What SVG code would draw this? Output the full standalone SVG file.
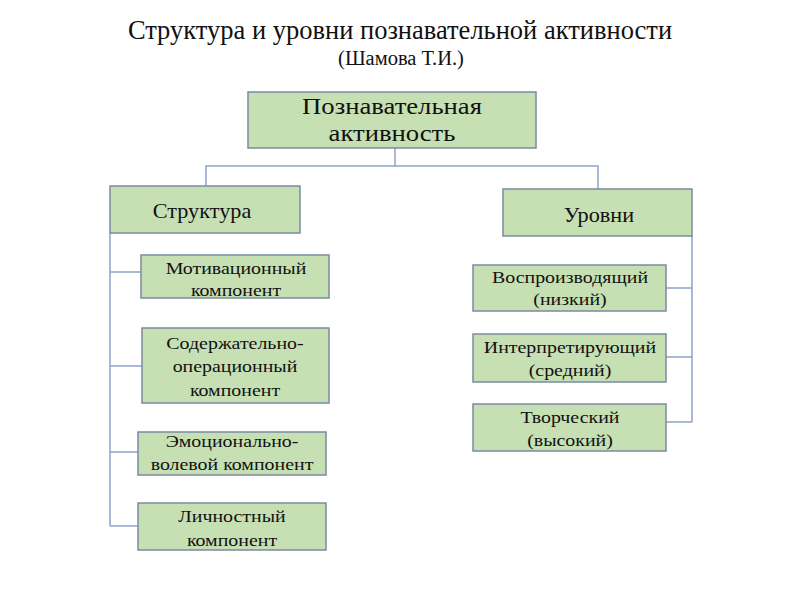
<svg xmlns="http://www.w3.org/2000/svg" width="800" height="600" viewBox="0 0 800 600">
<style>
.box{fill:#c6e0b4;stroke:#7b8aa0;stroke-width:1.5}
.t{font-family:"Liberation Serif",serif;fill:#111;text-anchor:middle}
.s{font-size:17px}
.c{fill:none;stroke:#8ea3cc;stroke-width:1.5}
</style>
<rect width="800" height="600" fill="#fff"/>
<text class="t" x="400" y="39" font-size="26.5">Структура и уровни познавательной активности</text>
<text class="t" x="401" y="65" font-size="20.5">(Шамова Т.И.)</text>
<g id="connectors">
<path class="c" d="M395 148V166M206 186V166H598V189"/>
<path class="c" d="M110 233V526M110 272H141M110 366H142M110 452H138M110 526H138"/>
<path class="c" d="M692 236V422M666 288H692M666 357H692M666 422H692"/>
</g>
<g id="n-root"><rect class="box" x="248" y="92" width="288" height="56"/>
<g transform="translate(392 0) scale(1.16 1)"><text class="t" font-size="23" x="0" y="114">Познавательная</text><text class="t" font-size="23" x="0" y="141">активность</text></g></g>
<g id="n-struct"><rect class="box" x="110" y="186" width="190" height="47"/>
<g transform="translate(202 0) scale(1.06 1)"><text class="t" font-size="21" x="0" y="218">Структура</text></g></g>
<g id="n-levels"><rect class="box" x="503" y="189" width="189" height="47"/>
<g transform="translate(599 0) scale(1.06 1)"><text class="t" font-size="21" x="0" y="222">Уровни</text></g></g>
<g id="n-motiv"><rect class="box" x="141" y="255" width="188" height="43"/>
<g transform="translate(236 0) scale(1.17 1)"><text class="t s" x="0" y="274">Мотивационный</text><text class="t s" x="0" y="296">компонент</text></g></g>
<g id="n-content"><rect class="box" x="142" y="328" width="187" height="75"/>
<g transform="translate(235 0) scale(1.17 1)"><text class="t s" x="0" y="349">Содержательно-</text><text class="t s" x="0" y="372">операционный</text><text class="t s" x="0" y="396">компонент</text></g></g>
<g id="n-emo"><rect class="box" x="138" y="432" width="188" height="43"/>
<g transform="translate(232 0) scale(1.17 1)"><text class="t s" x="0" y="447">Эмоционально-</text><text class="t s" x="0" y="470">волевой компонент</text></g></g>
<g id="n-pers"><rect class="box" x="138" y="503" width="188" height="47"/>
<g transform="translate(232 0) scale(1.17 1)"><text class="t s" x="0" y="522">Личностный</text><text class="t s" x="0" y="546">компонент</text></g></g>
<g id="n-repro"><rect class="box" x="473" y="265" width="193" height="46"/>
<g transform="translate(570 0) scale(1.17 1)"><text class="t s" x="0" y="283">Воспроизводящий</text><text class="t s" x="0" y="305">(низкий)</text></g></g>
<g id="n-interp"><rect class="box" x="473" y="334" width="193" height="48"/>
<g transform="translate(570 0) scale(1.17 1)"><text class="t s" x="0" y="353">Интерпретирующий</text><text class="t s" x="0" y="376">(средний)</text></g></g>
<g id="n-creat"><rect class="box" x="473" y="404" width="193" height="47"/>
<g transform="translate(570 0) scale(1.17 1)"><text class="t s" x="0" y="423">Творческий</text><text class="t s" x="0" y="446">(высокий)</text></g></g>
</svg>
